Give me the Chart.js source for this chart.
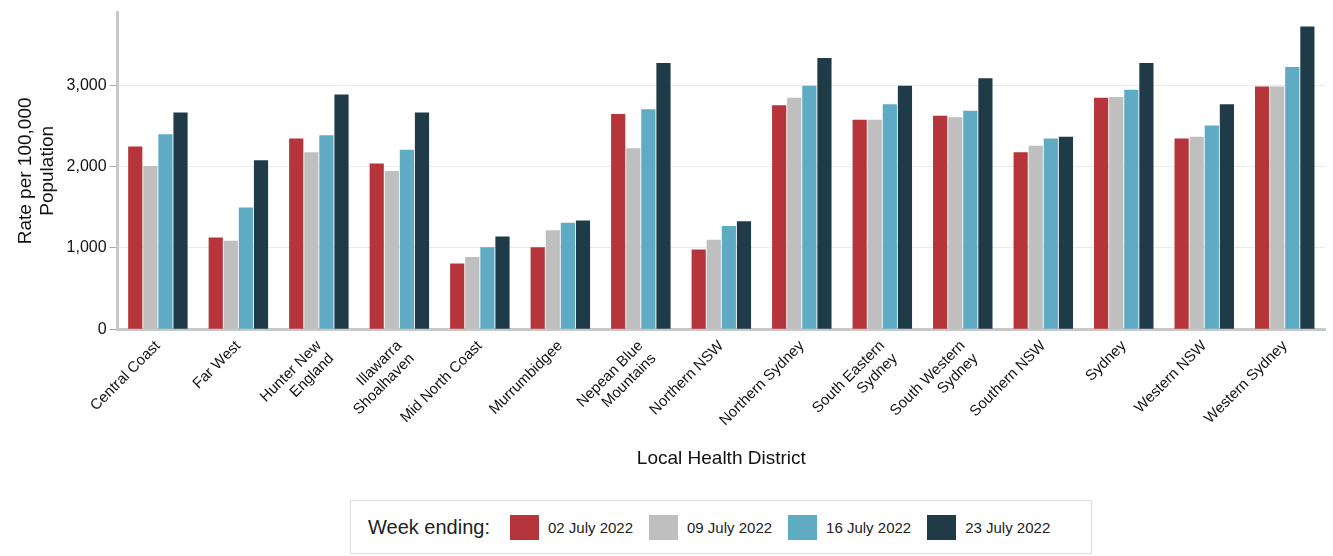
<!DOCTYPE html>
<html>
<head>
<meta charset="utf-8">
<script src="https://cdn.jsdelivr.net/npm/chart.js@4"></script>
<style>
  body { margin: 0; background: #fff; font-family: Arial, "Liberation Sans", sans-serif; }
  #wrap { position: absolute; left: 0; top: 0; width: 1333px; height: 474px; }
  #legend { position: absolute; left: 350px; top: 500px; width: 742px; height: 54px;
    border: 1px solid #ddd; box-sizing: border-box; display: flex; align-items: center;
    font-size: 15px; color: #222; }
  #legend .ttl { font-size: 20px; margin-left: 17px; margin-right: 20px; }
  #legend .it { display: flex; align-items: center; margin-right: 16px; }
  #legend .sw { width: 29px; height: 25px; margin-right: 9px; }
</style>
</head>
<body>
<div id="wrap"><canvas id="c"></canvas></div>
<div id="legend"><span class="ttl">Week ending:</span></div>
<script>
const districts = ['Central Coast', 'Far West', ['Hunter New', 'England'], ['Illawarra', 'Shoalhaven'],
  'Mid North Coast', 'Murrumbidgee', ['Nepean Blue', 'Mountains'], 'Northern NSW', 'Northern Sydney',
  ['South Eastern', 'Sydney'], ['South Western', 'Sydney'], 'Southern NSW', 'Sydney', 'Western NSW', 'Western Sydney'];
const weeks = ['02 July 2022', '09 July 2022', '16 July 2022', '23 July 2022'];
const colors = ['#B5353A', '#BFBFBF', '#5EABC3', '#1F3B48'];
const week1 = [2250, 1130, 2350, 2040, 810, 1010, 2650, 980, 2760, 2580, 2630, 2180, 2850, 2350, 2990];
const week2 = [2010, 1090, 2180, 1950, 890, 1220, 2230, 1100, 2850, 2580, 2610, 2260, 2860, 2370, 2990];
const week3 = [2400, 1500, 2390, 2210, 1010, 1310, 2710, 1270, 3000, 2770, 2690, 2350, 2950, 2510, 3230];
const week4 = [2670, 2080, 2890, 2670, 1140, 1340, 3280, 1330, 3340, 3000, 3090, 2370, 3280, 2770, 3730];
const series = [week1, week2, week3, week4];

const legend = document.getElementById('legend');
weeks.forEach((w, i) => {
  const it = document.createElement('span');
  it.className = 'it';
  it.innerHTML = '<span class="sw" style="background:' + colors[i] + '"></span>' + w;
  legend.appendChild(it);
});

new Chart(document.getElementById('c'), {
  type: 'bar',
  data: {
    labels: districts,
    datasets: series.map((d, i) => ({
      label: weeks[i], data: d, backgroundColor: colors[i],
      categoryPercentage: 0.75, barPercentage: 0.94
    }))
  },
  options: {
    responsive: true, maintainAspectRatio: false, animation: false,
    layout: { padding: { left: 10, right: 8, top: 10 } },
    plugins: { legend: { display: false }, tooltip: { enabled: false } },
    scales: {
      x: {
        grid: { display: false, drawTicks: true, tickColor: '#aaa', tickLength: 5 },
        border: { color: '#c8c8c8', width: 3 },
        ticks: { color: '#111', font: { size: 15, family: 'Arial' }, maxRotation: 45, minRotation: 45, autoSkip: false },
        title: { display: true, text: 'Local Health District', color: '#111', font: { size: 19, family: 'Arial' }, padding: { top: 2 } }
      },
      y: {
        min: 0, max: 3900,
        afterBuildTicks: ax => { ax.ticks = [0, 1000, 2000, 3000].map(v => ({ value: v })); },
        grid: { color: '#eaeaea', tickLength: 8, tickColor: '#aaa' },
        border: { color: '#c8c8c8', width: 3 },
        ticks: { color: '#111', font: { size: 16, family: 'Arial' }, callback: v => v.toLocaleString('en-US') },
        title: { display: true, text: ['Rate per 100,000', 'Population'], color: '#111', font: { size: 19, family: 'Arial' }, padding: 4 }
      }
    }
  }
});
</script>
</body>
</html>
